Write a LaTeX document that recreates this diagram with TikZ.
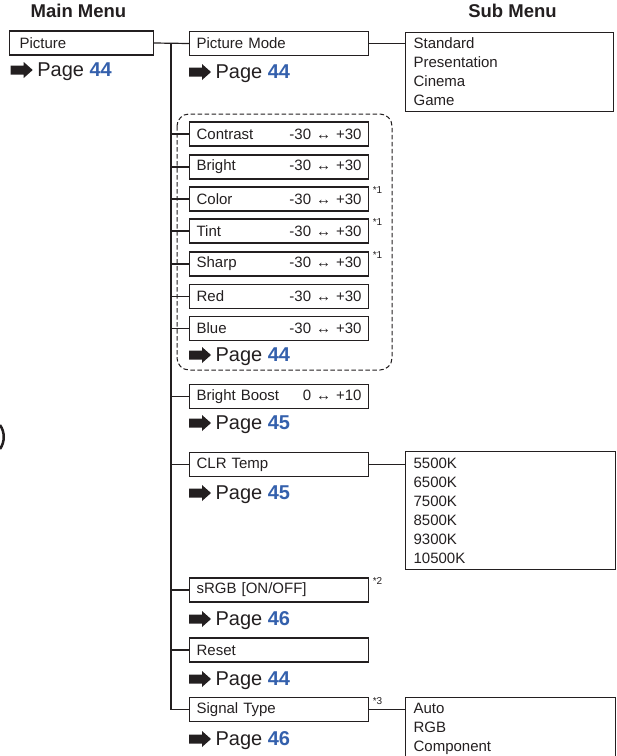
\documentclass[tikz,border=0pt]{standalone}
\usepackage{fontspec}
\setmainfont{Liberation Sans}
\usetikzlibrary{positioning}

\definecolor{inkgray}{RGB}{35,31,32}
\definecolor{pageblue}{RGB}{52,96,172}

% arrow sign followed by a page reference: node name, x, y, page
\newcommand{\pagelink}[4]{%
  \fill[inkgray] (#2,#3) ++(0,-4.5) -- ++(13,0) -- ++(0,-3.5) -- ++(9,8)
    -- ++(-9,8) -- ++(0,-3.5) -- ++(-13,0) -- cycle;
  \node[pagetext] (#1) at (#2+26,#3+6.5) {Page \textbf{\textcolor{pageblue}{#4}}};
}

\begin{document}
\begin{tikzpicture}[x=1pt,y=-1pt,inkgray,line width=1.2pt,
  heading/.style={font=\fontsize{18.5}{21}\selectfont\bfseries,inner sep=0pt},
  menubox/.style={draw,anchor=west,text width=165pt,inner xsep=7pt,inner ysep=0pt,
    minimum height=24pt,align=left,font=\fontsize{15}{18}\selectfont},
  subbox/.style={draw,anchor=north west,inner xsep=8pt,inner ysep=0pt,align=left,
    font=\fontsize{15}{19}\selectfont},
  pagetext/.style={anchor=base west,inner sep=0pt,font=\fontsize{20}{24}\selectfont},
  note/.style={anchor=north west,inner sep=0pt,font=\fontsize{10}{11}\selectfont}]

\useasboundingbox (0,0) rectangle (617,756);
\clip (0,0) rectangle (617,756);

% Column headings
\node[heading] (mainhead) at (78.5,11) {Main Menu};
\node[heading] (subhead) at (512.5,11) {Sub Menu};

% Main menu
\node[menubox,text width=124pt,inner xsep=10pt] (picture) at (9,43) {Picture};
\pagelink{picpage}{10.7}{70}{44}

% Adjustment items
\node[menubox] (mode) at (189,43.5) {Picture Mode};
\pagelink{modepage}{189}{72}{44}

\draw[dashed,dash pattern=on 4.5pt off 2.5pt,line width=1pt,rounded corners=12pt]
  (177,114) rectangle (392,370);
\node[menubox] (contrast) at (189,134) {Contrast\hfill -30 ↔ +30};
\node[menubox] (bright) at (189,167) {Bright\hfill -30 ↔ +30};
\node[menubox] (color) at (189,199) {Color\hfill -30 ↔ +30};
\node[menubox] (tint) at (189,231) {Tint\hfill -30 ↔ +30};
\node[menubox] (sharp) at (189,264) {Sharp\hfill -30 ↔ +30};
\node[menubox] (red) at (189,296.5) {Red\hfill -30 ↔ +30};
\node[menubox] (blue) at (189,328.5) {Blue\hfill -30 ↔ +30};
\pagelink{groupage}{189}{355}{44}

\node[menubox] (boost) at (189,396.5) {Bright Boost\hfill 0 ↔ +10};
\pagelink{boostpage}{189}{423}{45}

\node[menubox] (clr) at (189,464.5) {CLR Temp};
\pagelink{clrpage}{189}{493}{45}

\node[menubox] (srgb) at (189,590) {sRGB [ON/OFF]};
\pagelink{srgbpage}{189}{619}{46}

\node[menubox] (reset) at (189,650) {Reset};
\pagelink{resetpage}{189}{679}{44}

\node[menubox] (signal) at (189,709.5) {Signal Type};
\pagelink{signalpage}{189}{739}{46}

% Footnote marks
\node[note] (n1) at ([xshift=3pt]color.north east) {*1};
\node[note] (n2) at ([xshift=3pt]tint.north east) {*1};
\node[note] (n3) at ([xshift=3pt]sharp.north east) {*1};
\node[note] (n4) at ([xshift=3pt]srgb.north east) {*2};
\node[note] (n5) at ([xshift=3pt]signal.north east) {*3};

% Sub menus
\node[subbox,text width=192pt,minimum height=79pt] (modesub) at (405,32)
  {Standard\\Presentation\\Cinema\\Game};
\node[subbox,text width=194pt,minimum height=118pt] (clrsub) at (405,451)
  {5500K\\6500K\\7500K\\8500K\\9300K\\10500K};
\node[subbox,text width=194pt,minimum height=63pt] (signalsub) at (405,697)
  {Auto\\RGB\\Component};

% Tree lines
\coordinate (trunk) at (171,43);
\draw (picture.east) -- (mode.west);
\draw (trunk) |- (signal.west);
\foreach \item in {contrast,bright,color,tint,sharp,red,blue,boost,clr,srgb,reset}
  \draw (trunk |- \item.west) -- (\item.west);
\draw (mode.east) -- (mode.east -| modesub.west);
\draw (clr.east) -- (clr.east -| clrsub.west);
\draw (signal.east) -- (signal.east -| signalsub.west);

% Edge of a mark cut off at the left border
\draw[line width=2.5pt] (0,425) .. controls (5,432) and (5,442) .. (0,449);

\end{tikzpicture}
\end{document}
